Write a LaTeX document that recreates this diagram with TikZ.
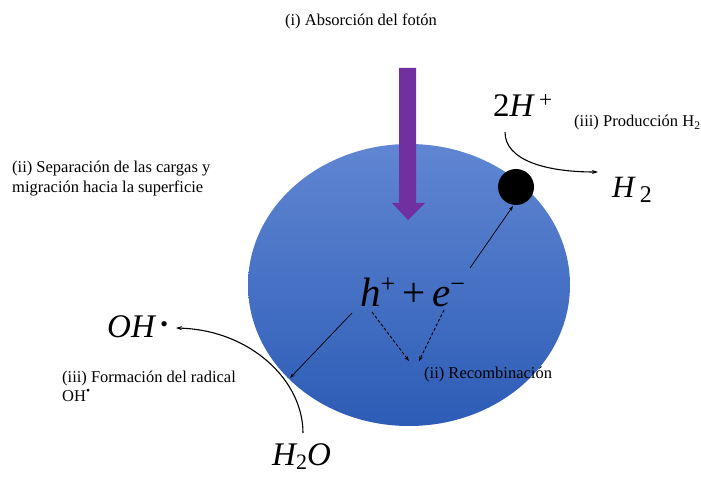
\documentclass[tikz,border=0pt]{standalone}
\usepackage{fontspec}
\setmainfont{Liberation Serif}
\usetikzlibrary{shapes.geometric,arrows.meta}
\definecolor{topblue}{RGB}{96,134,210}
\definecolor{botblue}{RGB}{45,92,182}
\definecolor{photon}{RGB}{112,48,160}
\tikzset{
  lbl/.style={inner sep=0pt,font=\fontsize{16.5}{19}\selectfont},
  chem/.style={inner sep=0pt,font=\fontsize{33}{36}\selectfont},
  thinarrow/.style={line width=0.7pt,-{Stealth[length=5pt,width=3.5pt]}},
  curvearrow/.style={line width=1.1pt,-{Stealth[length=6pt,width=4pt]}},
  dasharrow/.style={line width=0.9pt,dash pattern=on 3pt off 2pt,-{Stealth[length=5pt,width=3.5pt]}}
}
\begin{document}
\begin{tikzpicture}[x=1pt,y=-1pt]
\useasboundingbox (0,0) rectangle (701,478);
% particle
\node[ellipse,minimum width=322pt,minimum height=282pt,inner sep=0pt,
      top color=topblue,bottom color=botblue] (cat) at (409,285) {};
% photon arrow
\fill[photon] (399,68) -- (416,68) -- (416,203) -- (425,203) -- (408,220)
  -- (392,203) -- (399,203) -- cycle;
% black site
\node[circle,fill=black,minimum size=36pt,inner sep=0pt] (site) at (516,187) {};
% texts
\node[lbl,anchor=base] (abs) at (361,26) {(i) Absorción del fotón};
\node[lbl,anchor=base west] (sep1) at (12,173) {(ii) Separación de las cargas y};
\node[lbl,anchor=base west] (sep2) at (12,193) {migración hacia la superficie};
\node[lbl,anchor=base west] (prod) at (574,127) {(iii) Producción H\textsubscript{2}};
\node[lbl,anchor=base west] (rec) at (424,378) {(ii) Recombinación};
\node[lbl,anchor=base west] (form1) at (62,382) {(iii) Formación del radical};
\node[lbl,anchor=base west] (form2) at (62,401) {OH\textsuperscript{•}};
% chemical species
\node[inner sep=0pt,anchor=base west,font=\fontsize{41}{44}\selectfont] (pair) at (360,306)
  {{\itshape h}\raisebox{14pt}{\fontsize{26}{26}\selectfont +}\,+\,{\itshape e}\raisebox{14pt}{\fontsize{26}{26}\selectfont −}};
\node[chem,anchor=base west] (hplus) at (493,117) {2{\itshape H}\,\textsuperscript{+}};
\node[inner sep=0pt,anchor=base west,font=\fontsize{31}{33}\selectfont] (htwo) at (612,198)
  {{\itshape H}\,\raisebox{-5pt}{\fontsize{24}{24}\selectfont 2}};
\node[chem,anchor=base west] (oh) at (107,337) {{\itshape OH}\,\raisebox{6pt}{\fontsize{22}{22}\selectfont •}};
\node[chem,anchor=base west] (water) at (272,465) {{\itshape H}\raisebox{-4pt}{\fontsize{22}{22}\selectfont 2}{\itshape O}};
% connector ends
\coordinate (hs) at (352,313);
\coordinate (ht) at (290,378);
\coordinate (es) at (470,268);
\coordinate (et) at (513,206);
\coordinate (d1s) at (372,312);
\coordinate (d1t) at (409,361);
\coordinate (d2s) at (444,310);
\coordinate (d2t) at (419,361);
\coordinate (hp) at (505,132);
\coordinate (ht2) at (598,172);
\coordinate (ws) at (303,433);
\coordinate (wt) at (176,328);
% connectors
\draw[thinarrow] (hs) -- (ht);
\draw[thinarrow] (es) -- (et);
\draw[dasharrow] (d1s) -- (d1t);
\draw[dasharrow] (d2s) -- (d2t);
\draw[curvearrow] (hp) .. controls (505,160) and (545,172) .. (ht2);
\draw[curvearrow] (ws) .. controls (303,380) and (250,330) .. (wt);
\end{tikzpicture}
\end{document}
